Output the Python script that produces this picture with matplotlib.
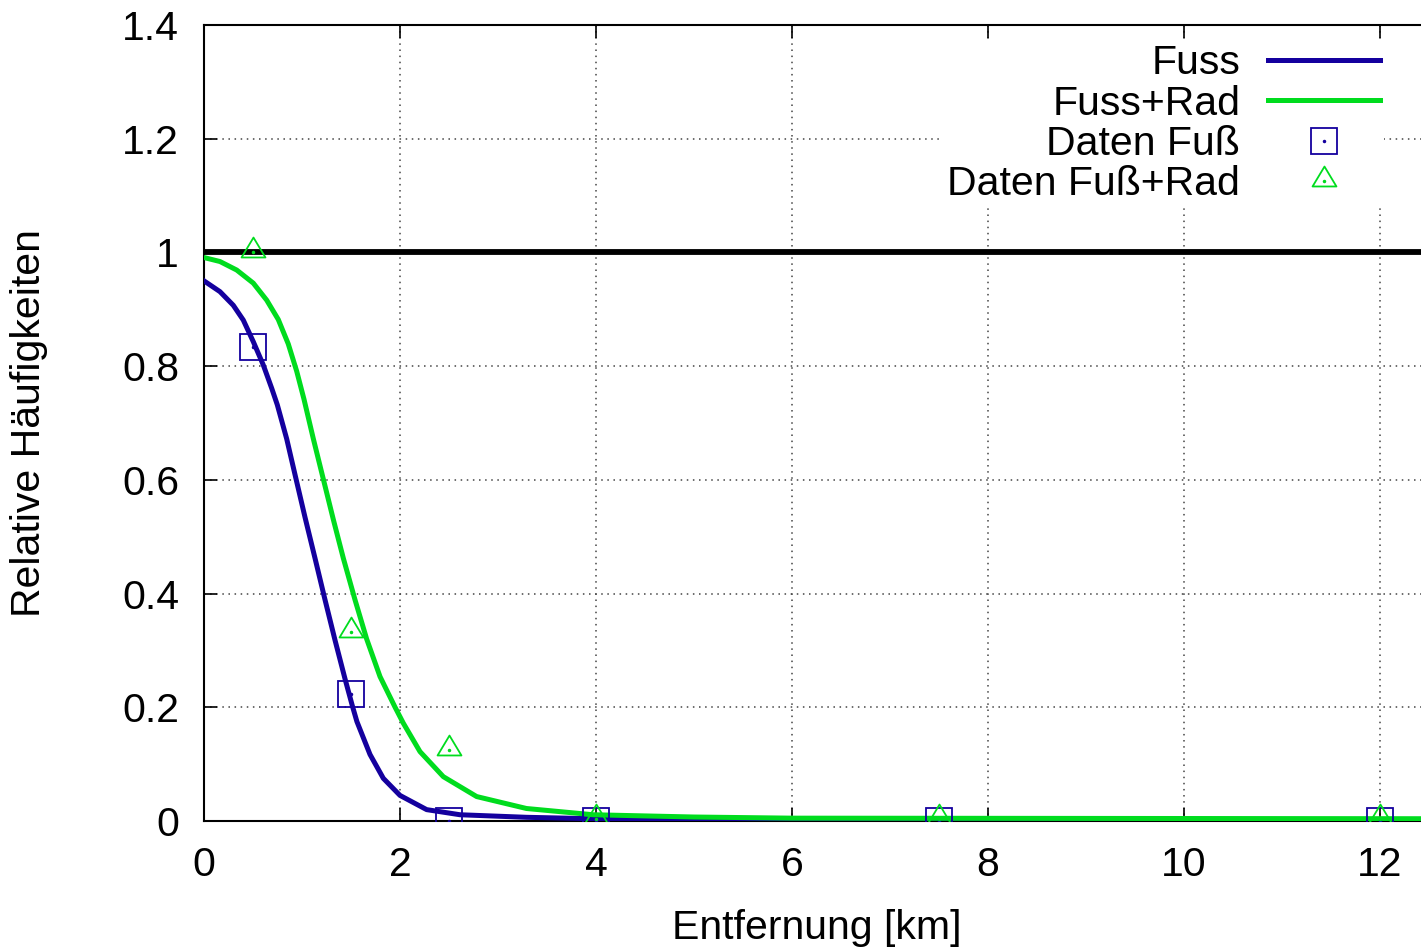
import numpy as np
import matplotlib
matplotlib.use('Agg')
import matplotlib.pyplot as plt
from matplotlib.path import Path

plt.rcParams['font.family'] = ['Liberation Sans', 'DejaVu Sans']

# fitted curves
fuss_x = [0, 0.163, 0.299, 0.401, 0.503, 0.605, 0.691, 0.748, 0.844, 0.929, 1.031, 1.133,
          1.235, 1.337, 1.439, 1.513, 1.56, 1.694, 1.83, 2.0, 2.272, 2.612, 3.29, 3.97, 5.0, 12.5]
fuss_y = [0.950, 0.931, 0.907, 0.881, 0.843, 0.802, 0.761, 0.732, 0.672, 0.609, 0.534, 0.462,
          0.389, 0.318, 0.250, 0.203, 0.175, 0.117, 0.075, 0.045, 0.020, 0.011, 0.0065, 0.004, 0.003, 0.002]

rad_x = [0, 0.163, 0.334, 0.503, 0.640, 0.758, 0.860, 0.946, 1.02, 1.116, 1.218, 1.320,
         1.422, 1.541, 1.660, 1.796, 1.95, 2.034, 2.204, 2.442, 2.782, 3.29, 3.97, 5.0, 6.0, 12.5]
rad_y = [0.991, 0.984, 0.969, 0.946, 0.916, 0.882, 0.839, 0.791, 0.742, 0.672, 0.601, 0.530,
         0.462, 0.389, 0.320, 0.254, 0.200, 0.172, 0.122, 0.078, 0.043, 0.022, 0.011, 0.007, 0.005, 0.004]

# measured data
daten_x = [0.5, 1.5, 2.5, 4, 7.5, 12]
daten_fuss = [0.834, 0.223, 0.0, 0.0, 0.0, 0.0]
daten_rad = [1.0, 0.333, 0.125, 0.003, 0.003, 0.003]

x_ticks = [0, 2, 4, 6, 8, 10, 12]
y_ticks = [0, 0.2, 0.4, 0.6, 0.8, 1.0, 1.2, 1.4]
y_ticklabels = ['0', '0.2', '0.4', '0.6', '0.8', '1', '1.2', '1.4']

blue = '#14009e'
green = '#00dc1e'
fs = 29.5

# gnuplot-like triangle, centred low
tri = Path([(0, 15), (-12, -5), (12, -5), (0, 15)], closed=True)

fig = plt.figure(figsize=(14.21, 9.5), dpi=100)
ax = fig.add_axes([204 / 1421, 129 / 950, 12.5 * 98 / 1421, 796 / 950])

ax.grid(True, linestyle=(0, (1, 3)), color='#444444', linewidth=1.1)
ax.set_axisbelow(True)

ax.axhline(1.0, color='black', linewidth=4.2, zorder=2)
l1, = ax.plot(fuss_x, fuss_y, color=blue, linewidth=3.6, zorder=3)
l2, = ax.plot(rad_x, rad_y, color=green, linewidth=3.6, zorder=3)
m1, = ax.plot(daten_x, daten_fuss, linestyle='none', marker='s', markersize=19,
              markerfacecolor='none', markeredgecolor=blue, markeredgewidth=1.3, zorder=4)
m2, = ax.plot(daten_x, daten_rad, linestyle='none', marker=tri, markersize=21.5,
              markerfacecolor='none', markeredgecolor=green, markeredgewidth=1.3, zorder=4)
d1, = ax.plot(daten_x, daten_fuss, linestyle='none', marker='o', markersize=1.5,
              color=blue, zorder=5)
d2, = ax.plot(daten_x, daten_rad, linestyle='none', marker='o', markersize=1.5,
              color=green, zorder=5)

ax.set_xlim(0, 12.5)
ax.set_ylim(0, 1.4)
ax.set_xticks(x_ticks)
ax.set_xticklabels([str(v) for v in x_ticks])
ax.set_yticks(y_ticks)
ax.set_yticklabels(y_ticklabels)

ax.tick_params(direction='in', length=9.5, width=1.2, labelsize=fs,
               top=True, right=False)
ax.tick_params(axis='y', pad=18)
ax.tick_params(axis='x', pad=18)
for s in ['left', 'bottom', 'top', 'right']:
    ax.spines[s].set_linewidth(1.5)

ax.set_xlabel('Entfernung [km]', fontsize=fs, labelpad=18)
ax.set_ylabel('Relative Häufigkeiten', fontsize=fs)
ax.yaxis.set_label_coords((48 - 204) / 1225, 0.5)

leg = ax.legend([l1, l2, (m1, d1), (m2, d2)],
                ['Fuss', 'Fuss+Rad', 'Daten Fuß', 'Daten Fuß+Rad'],
                loc='upper right', bbox_to_anchor=(1384 / 1421, 1 - 40 / 950),
                bbox_transform=fig.transFigure, markerfirst=False,
                fontsize=fs, frameon=True, fancybox=False, edgecolor='none',
                facecolor='white', framealpha=1.0, labelspacing=0.06,
                handlelength=2.73, handletextpad=0.68, borderpad=0.1,
                borderaxespad=0)

fig.savefig('out.png', dpi=100)
